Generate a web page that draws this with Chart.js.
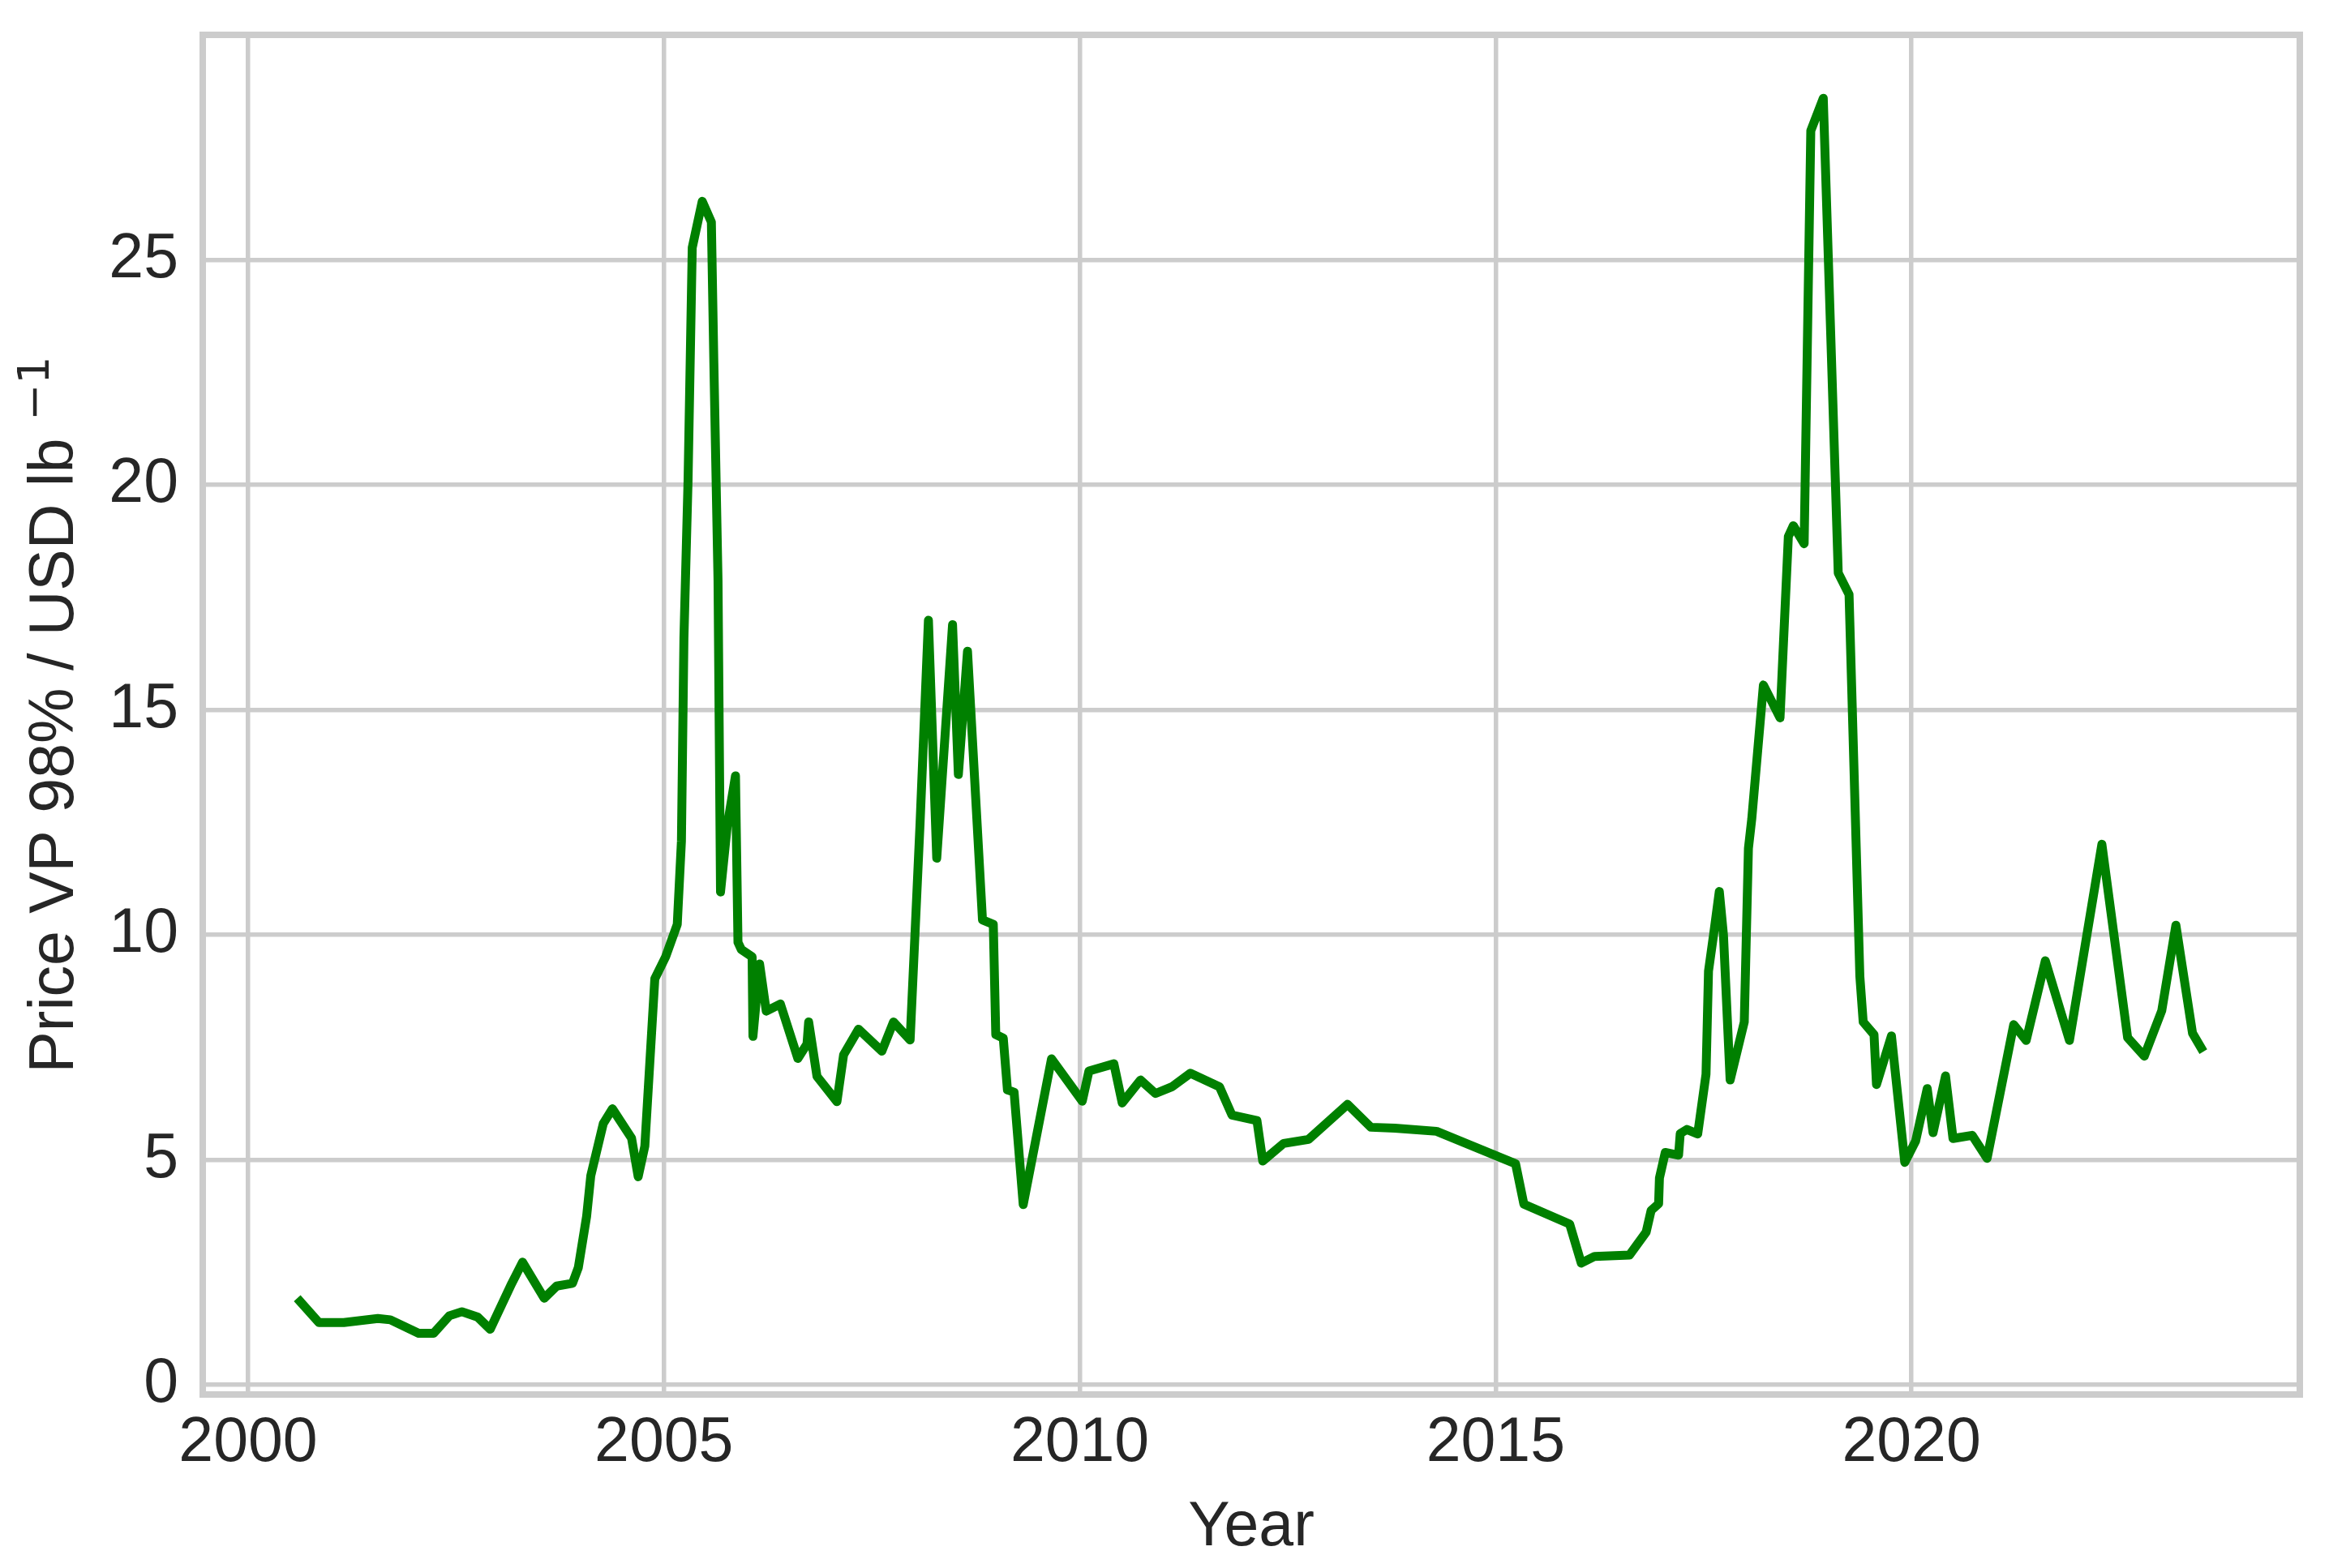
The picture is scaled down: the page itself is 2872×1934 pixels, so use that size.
<!DOCTYPE html>
<html>
<head>
<meta charset="utf-8">
<script src="https://cdn.jsdelivr.net/npm/chart.js@4.4.1/dist/chart.umd.min.js"></script>
<style>
  html, body { margin: 0; padding: 0; background: #ffffff; }
  canvas { display: block; }
</style>
</head>
<body>
<canvas id="priceChart" width="2872" height="1934"></canvas>
<script>
// VP 98% price
const years = [
  2000.59, 2000.85, 2001.15, 2001.56, 2001.71, 2002.05, 2002.23, 2002.42, 2002.57, 2002.76,
  2002.91, 2003.17, 2003.30, 2003.56, 2003.71, 2003.90, 2003.97, 2004.07, 2004.12, 2004.27,
  2004.38, 2004.61, 2004.69, 2004.77, 2004.89, 2005.02, 2005.16, 2005.21, 2005.24, 2005.29,
  2005.34, 2005.46, 2005.57, 2005.60, 2005.65, 2005.68, 2005.76, 2005.86, 2005.89, 2005.93,
  2006.06, 2006.07, 2006.15, 2006.23, 2006.40, 2006.61, 2006.72, 2006.74, 2006.84, 2007.08,
  2007.16, 2007.34, 2007.62, 2007.76, 2007.96, 2008.08, 2008.18, 2008.28, 2008.47, 2008.54,
  2008.65, 2008.83, 2008.96, 2008.99, 2009.08, 2009.13, 2009.21, 2009.32, 2009.66, 2010.03,
  2010.11, 2010.41, 2010.51, 2010.73, 2010.91, 2011.11, 2011.33, 2011.68, 2011.83, 2012.13,
  2012.20, 2012.45, 2012.75, 2013.22, 2013.50, 2013.79, 2014.29, 2015.24, 2015.34, 2015.89,
  2016.03, 2016.19, 2016.61, 2016.81, 2016.87, 2016.96, 2016.97, 2017.04, 2017.20, 2017.22,
  2017.30, 2017.43, 2017.53, 2017.56, 2017.62, 2017.69, 2017.74, 2017.82, 2017.99, 2018.04,
  2018.08, 2018.22, 2018.42, 2018.52, 2018.58, 2018.71, 2018.79, 2018.94, 2019.12, 2019.25,
  2019.38, 2019.42, 2019.55, 2019.58, 2019.76, 2019.92, 2020.05, 2020.19, 2020.26, 2020.41,
  2020.50, 2020.73, 2020.91, 2021.23, 2021.38, 2021.61, 2021.90, 2022.29, 2022.60, 2022.80,
  2023.01, 2023.18, 2023.38, 2023.51
];
const prices = [
  1.92, 1.38, 1.38, 1.47, 1.44, 1.14, 1.14, 1.53, 1.62, 1.50,
  1.23, 2.25, 2.72, 1.92, 2.19, 2.25, 2.60, 3.74, 4.64, 5.80,
  6.13, 5.48, 4.62, 5.30, 9.02, 9.51, 10.23, 12.08, 16.59, 20.12,
  25.27, 26.30, 25.84, 22.70, 17.87, 10.95, 12.40, 13.53, 9.83, 9.67,
  9.51, 7.74, 9.35, 8.30, 8.46, 7.25, 7.57, 8.06, 6.85, 6.29,
  7.33, 7.90, 7.41, 8.06, 7.66, 12.50, 16.99, 11.70, 16.89, 13.56,
  16.30, 10.33, 10.23, 7.78, 7.70, 6.55, 6.50, 4.00, 7.24, 6.30,
  6.97, 7.13, 6.26, 6.77, 6.47, 6.62, 6.92, 6.62, 5.99, 5.87,
  4.97, 5.36, 5.45, 6.23, 5.72, 5.70, 5.63, 4.91, 4.01, 3.57,
  2.70, 2.85, 2.88, 3.39, 3.87, 4.02, 4.59, 5.16, 5.10, 5.58,
  5.67, 5.57, 6.90, 9.19, 9.99, 10.96, 9.99, 6.77, 8.06, 11.92,
  12.57, 15.55, 14.82, 18.85, 19.09, 18.69, 27.87, 28.59, 18.04, 17.56,
  9.07, 8.06, 7.78, 6.67, 7.75, 4.94, 5.41, 6.58, 5.60, 6.86,
  5.47, 5.54, 5.03, 8.00, 7.65, 9.42, 7.65, 12.01, 7.71, 7.30,
  8.31, 10.21, 7.81, 7.40
];

const xTicks = [2000, 2005, 2010, 2015, 2020];
const yTicks = [0, 5, 10, 15, 20, 25];

const xTitle = 'Year';
const yTitle = 'Price VP 98% / USD lb';
const ySup = '\u22121';

const fontFamily = '"Liberation Sans", Arial, sans-serif';
const supFamily = '"DejaVu Sans", sans-serif';
const gridGrey = '#cccccc';
const textGrey = '#262626';

const points = years.map((yr, i) => ({ x: yr, y: prices[i] }));

// top + right spines (chart.js only draws left/bottom borders)
const framePlugin = {
    id: 'frame',
    beforeDatasetsDraw(chart) {
        const { ctx, chartArea } = chart;
        ctx.save();
        ctx.strokeStyle = gridGrey;
        ctx.lineWidth = 8;
        ctx.strokeRect(chartArea.left, chartArea.top,
            chartArea.right - chartArea.left, chartArea.bottom - chartArea.top);
        ctx.restore();
    }
};

// y label, with the -1 as a raised superscript
const yLabelPlugin = {
    id: 'yLabel',
    afterDraw(chart) {
        const { ctx, chartArea } = chart;
        ctx.save();
        ctx.translate(68, (chartArea.top + chartArea.bottom) / 2);
        ctx.rotate(-Math.PI / 2);
        ctx.fillStyle = textGrey;
        ctx.textBaseline = 'alphabetic';
        ctx.textAlign = 'left';

        ctx.font = '77px ' + fontFamily;
        const w1 = ctx.measureText(yTitle).width + ctx.measureText(' ').width;
        ctx.font = '54px ' + supFamily;
        const w2 = ctx.measureText(ySup).width;

        const start = -(w1 + w2) / 2;
        ctx.font = '77px ' + fontFamily;
        ctx.fillText(yTitle, start, 22);
        ctx.font = '54px ' + supFamily;
        ctx.fillText(ySup, start + w1, -8);
        ctx.restore();
    }
};

const ctx = document.getElementById('priceChart').getContext('2d');
const priceChart = new Chart(ctx, {
    type: 'line',
    data: {
        datasets: [{
            data: points,
            borderColor: '#008000',
            borderWidth: 11,
            borderJoinStyle: 'round',
            pointRadius: 0,
            tension: 0,
            fill: false
        }]
    },
    options: {
        responsive: false,
        animation: false,
        devicePixelRatio: 1,
        layout: { padding: { top: 43, right: 36, left: 0, bottom: 0 } },
        plugins: {
            legend: { display: false },
            tooltip: { enabled: false }
        },
        scales: {
            x: {
                type: 'linear',
                min: 1999.454,
                max: 2024.67,
                afterBuildTicks: (scale) => { scale.ticks = xTicks.map(v => ({ value: v })); },
                afterFit: (scale) => {
                    scale.height = 214;
                    scale.paddingLeft = 0;
                    scale.paddingRight = 0;
                },
                grid: { color: gridGrey, lineWidth: 5.5, drawTicks: false },
                border: { color: gridGrey, width: 8 },
                ticks: {
                    color: textGrey,
                    font: { family: fontFamily, size: 77 },
                    padding: 15,
                    maxRotation: 0,
                    callback: (v) => String(v)
                },
                title: {
                    display: true,
                    text: xTitle,
                    color: textGrey,
                    font: { family: fontFamily, size: 77 },
                    padding: { top: 0, bottom: 3 }
                }
            },
            y: {
                type: 'linear',
                min: -0.22,
                max: 30.0,
                afterBuildTicks: (scale) => { scale.ticks = yTicks.map(v => ({ value: v })); },
                afterFit: (scale) => {
                    scale.width = 250;
                    scale.paddingTop = 0;
                    scale.paddingBottom = 0;
                },
                grid: { color: gridGrey, lineWidth: 5.5, drawTicks: false },
                border: { color: gridGrey, width: 8 },
                ticks: {
                    color: textGrey,
                    font: { family: fontFamily, size: 77 },
                    padding: 30,
                    callback: (v) => String(v)
                }
            }
        }
    },
    plugins: [framePlugin, yLabelPlugin]
});
</script>
</body>
</html>
